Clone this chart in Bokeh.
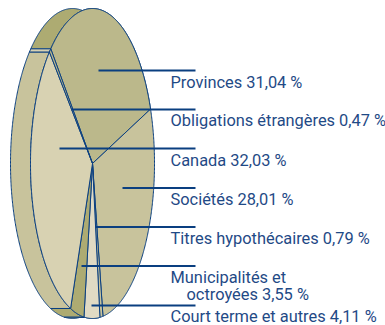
import numpy as np
from bokeh.plotting import figure
from bokeh.models import Range1d
from bokeh.core.properties import value
from bokeh.embed import file_html
from bokeh.resources import INLINE

categories = ["Provinces", "Sociétés", "Titres hypothécaires", "Court terme et autres",
              "Municipalités et octroyées", "Canada", "Obligations étrangères"]
shares = [31.04, 28.01, 0.79, 4.11, 3.55, 32.03, 0.47]
face_colors = ["#BBB88B", "#C8C39C", "#C8C39C", "#E0DAC4", "#ADAB72", "#D8D2B2", "#BBB88B"]
side_colors = ["#ADAB72", "#C8C39C", "#C8C39C", "#ADAB72", "#ADAB72", "#C8C39C", "#D8D2B2"]
label_lines = ["Provinces 31,04 %", "Obligations étrangères 0,47 %", "Canada 32,03 %", "Sociétés 28,01 %",
               "Titres hypothécaires 0,79 %", "Municipalités et", "octroyées 3,55 %", "Court terme et autres 4,11 %"]
label_x = [170, 170, 170, 170, 170, 170, 186, 170]
label_y = [82, 120, 160, 199, 238, 277, 294, 316]
leader_start = [98, 71, 59, 122, 95, 81, 91]
leader_y = [70, 109, 148, 187.5, 226.5, 265.5, 305]

NAVY = "#0A3F80"
TEXT = "#1F4A86"
W, H = 385, 325
CX, CY, RX, RY, SHIFT = 92, 163, 62, 155, 20
START = -42.3

p = figure(width=W, height=H, output_backend="svg", toolbar_location=None,
           x_range=Range1d(0, W), y_range=Range1d(H, 0), min_border=0,
           outline_line_color=None)
p.axis.visible = False
p.grid.visible = False
p.background_fill_color = "white"

def arc(a0, a1, dx=0.0):
    t = np.radians(np.linspace(a0, a1, max(2, int(abs(a1 - a0)) * 2 + 2)))
    return CX + dx + RX * np.sin(t), CY - RY * np.cos(t)

edges = START + np.cumsum([0] + [s * 3.6 for s in shares])

# extruded side, back to front
for i, col in enumerate(side_colors):
    a0, a1 = edges[i], edges[i + 1]
    if a1 <= 180 and a0 >= 0:
        continue
    fx, fy = arc(a0, a1)
    bx, by = arc(a0, a1, -SHIFT)
    p.patch(np.r_[fx, bx[::-1]], np.r_[fy, by[::-1]], fill_color=col,
            line_color=NAVY, line_width=1)

# front faces
for i, col in enumerate(face_colors):
    x, y = arc(edges[i], edges[i + 1])
    p.patch(np.r_[CX, x], np.r_[CY, y], fill_color=col, line_color=NAVY, line_width=1)

for x0, y0 in zip(leader_start, leader_y):
    p.line([x0, 195], [y0, y0], line_color=NAVY, line_width=2)

p.text(label_x, label_y, text=label_lines, text_font=value("Roboto"),
       text_font_size="16.4px", text_color=TEXT, text_baseline="middle", text_align="left")

open("out.html", "w").write(file_html(p, INLINE))
